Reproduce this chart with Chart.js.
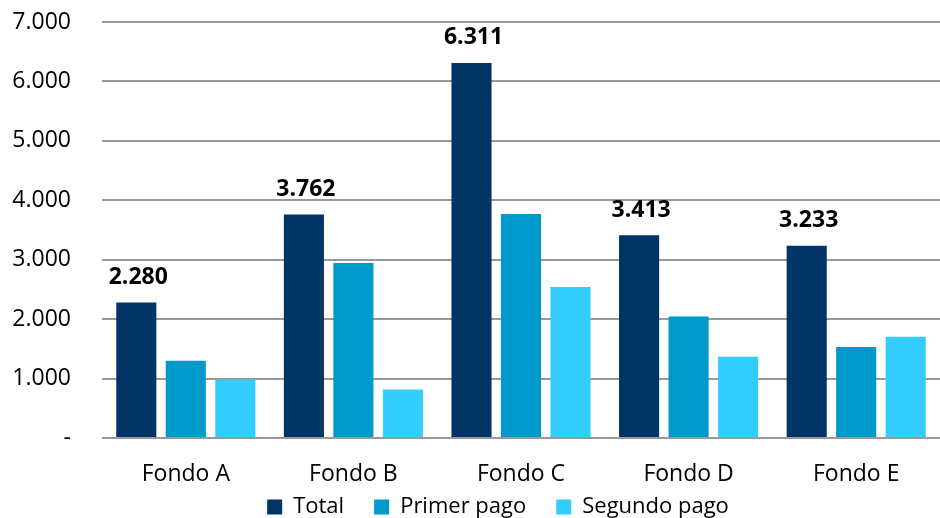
<!DOCTYPE html>
<html>
<head>
<meta charset="utf-8">
<script src="https://cdn.jsdelivr.net/npm/chart.js@4/dist/chart.umd.min.js"></script>
<style>
  html, body { margin: 0; padding: 0; background: #fff; }
  #wrap { width: 940px; height: 518px; }
</style>
</head>
<body>
<div id="wrap"><canvas id="fondosChart"></canvas></div>
<script>
// categorias y series
const fondos = ['Fondo A', 'Fondo B', 'Fondo C', 'Fondo D', 'Fondo E'];
const totalData = [2280, 3762, 6311, 3413, 3233];
const primerPago = [1300, 2946, 3770, 2045, 1530];
const segundoPago = [980, 816, 2541, 1368, 1703];
const yTicks = [0, 1000, 2000, 3000, 4000, 5000, 6000, 7000];

const fmt = v => v === 0 ? '-' : v.toString().replace(/\B(?=(\d{3})+(?!\d))/g, '.');

// etiquetas sobre las barras de Total
const totalLabels = {
    id: 'totalLabels',
    afterDatasetsDraw(chart) {
        const c = chart.ctx;
        const meta = chart.getDatasetMeta(0);
        c.save();
        c.font = 'bold 23px "Open Sans"';
        c.fillStyle = '#000';
        c.textAlign = 'center';
        c.textBaseline = 'middle';
        meta.data.forEach((bar, i) => {
            c.fillText(fmt(totalData[i]), bar.x + 2, bar.y - 25);
        });
        c.restore();
    }
};

// leyenda compacta: menos alto, dibujada un poco mas arriba y a la derecha
const legendFix = {
    id: 'legendFix',
    beforeInit(chart) {
        const lg = chart.legend;
        const fit = lg.fit.bind(lg);
        lg.fit = function () { fit(); this.height = 30; };
        const draw = lg.draw.bind(lg);
        lg.draw = function () {
            const t = this.top, l = this.left, r = this.right;
            this.top = t - 22;
            this.left = l + 28;
            this.right = r + 28;
            draw();
            this.top = t;
            this.left = l;
            this.right = r;
        };
    }
};

const ctx = document.getElementById('fondosChart').getContext('2d');

const chart = new Chart(ctx, {
    type: 'bar',
    data: {
        labels: fondos,
        datasets: [{
            label: 'Total',
            data: totalData,
            backgroundColor: '#003366',
        }, {
            label: 'Primer pago',
            data: primerPago,
            backgroundColor: '#0099cc',
        }, {
            label: 'Segundo pago',
            data: segundoPago,
            backgroundColor: '#33ccff',
        }],
    },
    options: {
        responsive: true,
        maintainAspectRatio: false,
        animation: false,
        categoryPercentage: 0.886,
        barPercentage: 0.81,
        layout: { padding: { top: 22, right: 0, left: 0, bottom: 0 } },
        plugins: {
            legend: {
                position: 'bottom',
                labels: {
                    boxWidth: 15,
                    boxHeight: 15,
                    padding: 30,
                    color: '#000',
                    font: { family: 'Open Sans', size: 22 },
                },
            },
            tooltip: { enabled: false },
        },
        scales: {
            x: {
                afterFit(scale) { scale.height = 50; },
                grid: { display: false },
                border: { display: false },
                ticks: {
                    color: '#000',
                    padding: 15,
                    font: { family: 'Open Sans', size: 23 },
                },
            },
            y: {
                min: 0,
                max: 7000,
                afterBuildTicks(scale) {
                    scale.ticks = yTicks.map(v => ({ value: v }));
                },
                afterFit(scale) { scale.width = 102; },
                grid: {
                    color: '#999',
                    lineWidth: 2,
                    drawTicks: true,
                    tickLength: 31,
                    tickColor: 'rgba(0,0,0,0)',
                },
                border: { display: false },
                ticks: {
                    color: '#000',
                    padding: 0,
                    font: { family: 'Open Sans', size: 23 },
                    callback: v => fmt(v),
                },
            },
        },
    },
    plugins: [totalLabels, legendFix],
});
</script>
</body>
</html>
